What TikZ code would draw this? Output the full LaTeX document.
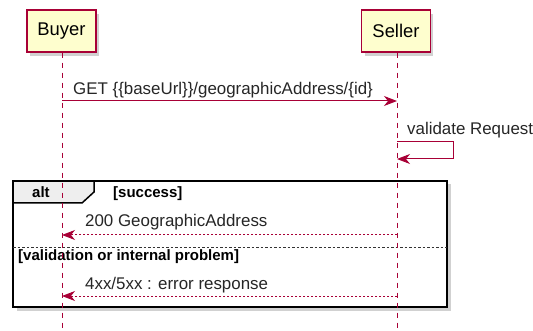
\documentclass[tikz,border=0pt]{standalone}
\usepackage{fontspec}
\setmainfont{Liberation Sans}
\usetikzlibrary{arrows.meta}
\definecolor{pumlred}{HTML}{A80036}
\definecolor{pumlfill}{HTML}{FEFECE}
\definecolor{tabfill}{HTML}{EEEEEE}
\tikzset{
  participant/.style={draw=pumlred, fill=pumlfill, line width=1.3pt, minimum width=69pt, minimum height=42pt, inner sep=0pt, font=\fontsize{18.4}{20}\selectfont},
  lifeline/.style={draw=pumlred, line width=1pt, dash pattern=on 5pt off 5pt},
  msg/.style={draw=pumlred, line width=1pt, -{Stealth[length=13pt,width=10pt,inset=4pt]}},
  ret/.style={draw=pumlred, line width=1pt, dash pattern=on 2pt off 2pt, -{Stealth[length=13pt,width=10pt,inset=4pt]}},
  msgtext/.style={anchor=base west, inner sep=0pt, font=\fontsize{16.9}{18}\selectfont, text=black!85},
  frametext/.style={anchor=base west, inner sep=0pt, font=\fontsize{15}{17}\selectfont\bfseries},
  shadowfill/.style={fill=black, opacity=0.18},
}
\begin{document}
\begin{tikzpicture}[x=1pt,y=-1pt]
\useasboundingbox (0,0) rectangle (533,331);
% participant shadows
\fill[shadowfill] (30,14) rectangle (99,56);
\fill[shadowfill] (365,14) rectangle (433,56);
\node[participant] (buyer) at (61.5,31) {Buyer};
\node[participant] (seller) at (396,31) {Seller};
% frame
\fill[shadowfill] (17,184) rectangle (451,311);
\draw[line width=2pt, fill=white] (13,181) rectangle (447,307);
\draw[line width=1.5pt, fill=tabfill] (13,181) -- (94,181) -- (94,192) -- (82,203) -- (13,203) -- cycle;
\draw[line width=2pt] (13,181) rectangle (447,307);
\node[frametext] (alt) at (32,198) {alt};
\node[frametext] (cond1) at (113,198) {[success]};
\draw[black!80, line width=0.8pt, dash pattern=on 2.5pt off 2pt] (13,247) -- (447,247);
\node[frametext] (cond2) at (18,261) {[validation or internal problem]};
% lifelines
\coordinate (bend) at (62,331);
\coordinate (send) at (397,331);
\draw[lifeline] (buyer.south -| bend) -- (bend);
\draw[lifeline] (seller.south -| send) -- (send);
% messages
\coordinate (b1) at (62,101); \coordinate (s1) at (397,101);
\node[msgtext] (m1) at (73,95) {GET \{\{baseUrl\}\}/geographicAddress/\{id\}};
\draw[msg] (b1) -- (s1);
\coordinate (s2a) at (397,142); \coordinate (s2b) at (453,142);
\coordinate (s2c) at (453,159); \coordinate (s2d) at (397,159);
\node[msgtext] (m2) at (407,135) {validate Request};
\draw[msg] (s2a) -- (s2b) -- (s2c) -- (s2d);
\coordinate (b3) at (62,235); \coordinate (s3) at (397,235);
\node[msgtext] (m3) at (85,227) {200 GeographicAddress};
\draw[ret] (s3) -- (b3);
\coordinate (b4) at (62,296); \coordinate (s4) at (397,296);
\node[msgtext] (m4) at (85,289) {4xx/5xx : error response};
\draw[ret] (s4) -- (b4);
\end{tikzpicture}
\end{document}
